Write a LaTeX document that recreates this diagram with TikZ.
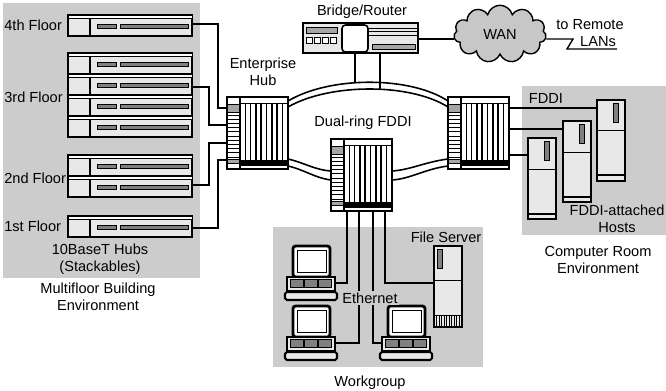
\documentclass[tikz,border=0pt]{standalone}
\usepackage{fontspec}
\setmainfont{Liberation Sans}
\usetikzlibrary{shapes.symbols}

\definecolor{panelgray}{gray}{0.80}
\definecolor{unitgray}{gray}{0.91}
\definecolor{bargray}{gray}{0.50}
\definecolor{cellgray}{gray}{0.65}
\definecolor{cloudgray}{gray}{0.78}

\tikzset{
  panel/.style={fill=panelgray},
  wire/.style={line width=0.8pt},
  box/.style={line width=0.9pt},
  caption/.style={font=\fontsize{8.3}{9.4}\selectfont, align=center, inner sep=0pt},
}

% one 10BaseT hub unit, top edge at y=#1
\newcommand{\hubunit}[1]{%
  \filldraw[box,fill=unitgray] (68,#1) rectangle (192,#1+21);
  \filldraw[fill=white] (68,#1) rectangle (192,#1+3);
  \draw[line width=1.2pt] (90,#1+3) -- (90,#1+21);
  \filldraw[fill=bargray] (97,#1+9) rectangle (116,#1+13);
  \filldraw[fill=bargray] (120,#1+9) rectangle (188,#1+13);
}

% FDDI concentrator, port strip at x=#1, top at y=#2
\newcommand{\concentrator}[2]{%
  \filldraw[box,fill=white] (#1,#2) rectangle (#1+13,#2+72);
  \filldraw[fill=cellgray] (#1,#2+7) rectangle (#1+13,#2+15);
  \foreach \k in {0,...,10} \draw (#1,#2+18+\k*4.2) -- ++(13,0);
  \filldraw[fill=cellgray] (#1,#2+62) rectangle (#1+13,#2+66);
  \filldraw[box,fill=white] (#1+13,#2) rectangle (#1+61,#2+72);
  \draw (#1+13,#2+6) -- (#1+61,#2+6);
  \foreach \k in {1,...,8} \draw[line width=0.9pt] (#1+13+\k*5.3,#2+6) -- ++(0,57);
  \fill (#1+13,#2+63) rectangle (#1+61,#2+69);
}

% tower cabinet, top left (#1,#2), slot x offset #3, divider y offset #4
\newcommand{\tower}[4]{%
  \filldraw[box,fill=unitgray] (#1,#2) rectangle (#1+28,#2+81);
  \draw[line width=1.6pt] (#1+28,#2+1) -- (#1+28,#2+81); % shadow side
  \filldraw[fill=bargray] (#1+#3,#2+3) rectangle (#1+#3+5,#2+22);
  \draw (#1,#2+#4) -- (#1+28,#2+#4);
}

% desktop pc, monitor top left at (#1,#2)
\newcommand{\pc}[2]{%
  \filldraw[line width=1.6pt,fill=white,rounded corners=1.5pt] (#1,#2) rectangle (#1+37,#2+31);
  \draw[line width=0.5pt] (#1+4,#2+4) rectangle (#1+33,#2+26);
  \filldraw[box,fill=unitgray] (#1-6,#2+31) rectangle (#1+42,#2+45);
  \foreach \s in {0,14,28} \filldraw[fill=bargray] (#1-3+\s,#2+33) rectangle (#1+10+\s,#2+41);
  \filldraw[line width=1.2pt,fill=unitgray,rounded corners=1pt] (#1-8,#2+46) rectangle (#1+44,#2+54);
}

\begin{document}
\begin{tikzpicture}[x=0.02cm,y=-0.02cm]
\useasboundingbox (0,0) rectangle (666,391);

% environments
\fill[panel] (3,3) rectangle (200,278); % multifloor
\fill[panel] (522,86) rectangle (666,235); % computer room
\fill[panel] (273,227) rectangle (483,367); % workgroup

% stackable hubs
\foreach \yy in {15,53,74,95,116,155,176,216} {\hubunit{\yy}}

\node[caption,anchor=west] (fl4) at (4,25) {4th Floor};
\node[caption,anchor=west] (fl3) at (4,97) {3rd Floor};
\node[caption,anchor=west] (fl2) at (4,178) {2nd Floor};
\node[caption,anchor=west] (fl1) at (4,226) {1st Floor};
\node[caption] (stack) at (100,259) {10BaseT Hubs\\(Stackables)};
\node[caption] (multi) at (98,297) {Multifloor Building\\Environment};

% floor links
\coordinate (u4) at (192,24);
\coordinate (u3) at (192,87);
\coordinate (u2) at (192,185);
\coordinate (u1) at (192,228);
\coordinate (e4) at (227,108);
\coordinate (e3) at (227,125);
\coordinate (e2) at (227,143);
\coordinate (e1) at (227,160);
\draw[wire] (u4) -- ++(26,0) |- (e4);
\draw[wire] (u3) -- ++(17,0) |- (e3);
\draw[wire] (u2) -- ++(17,0) |- (e2);
\draw[wire] (u1) -- ++(26,0) |- (e1);

% dual ring
\draw[box] (288,101) .. controls (330,76) and (410,76) .. (448,101);
\draw[box] (288,107) .. controls (330,83) and (410,83) .. (448,107);
\draw[box] (288,159) .. controls (305,163) and (315,170) .. (331,171);
\draw[box] (288,166) .. controls (305,170) and (315,178) .. (331,180);
\draw[box] (392,171) .. controls (410,170) and (425,162) .. (448,159);
\draw[box] (392,180) .. controls (410,179) and (425,169) .. (448,166);

\concentrator{227}{97}  % enterprise hub
\concentrator{448}{97}  % computer room
\concentrator{331}{139} % workgroup

\node[caption] (ehub) at (263,72) {Enterprise\\Hub};
\node[caption] (ring) at (363,123) {Dual-ring FDDI};

% bridge/router
\filldraw[box,fill=unitgray] (303,23) rectangle (418,53);
\filldraw[fill=cellgray] (306,27) rectangle (337,33);
\foreach \i in {0,...,3} \filldraw[fill=white] (306+\i*8,37) rectangle (312+\i*8,43);
\filldraw[box,fill=white,rounded corners=2pt] (342,25) rectangle (368,52);
\foreach \yy in {28,31,35} \draw (368,\yy) -- (418,\yy);
\filldraw[fill=cellgray] (372,44) rectangle (415,49);
\node[caption] (router) at (362,12) {Bridge/Router};

\coordinate (br1) at (355,53);
\coordinate (br2) at (380,53);
\coordinate (br3) at (418,39);
\coordinate (rg1) at (355,83);
\coordinate (rg2) at (380,89);
\draw[wire] (br1) -- (rg1);
\draw[wire] (br2) -- (rg2);

% wan
\node[cloud, cloud puffs=11, aspect=1.6, draw, fill=cloudgray, line width=0.8pt,
  minimum width=1.85cm, minimum height=1.15cm, inner sep=0pt,
  font=\fontsize{8.3}{9.4}\selectfont] (wan) at (500,34) {WAN};
\coordinate (remote) at (617,49);
\draw[wire] (br3) -- (wan.west |- br3);
\draw[wire] (wan.east |- br3) -- (573,39) -- (567,49) -- (remote);
\node[caption] (toremote) at (590,25) {to Remote};
\node[caption] (lans) at (598,42) {LANs};

% computer room hosts
\tower{597}{100}{16}{30}
\tower{563}{121}{16}{31}
\tower{528}{138}{16}{31}
\foreach \xx/\yy in {597/175,563/197,528/214} \draw[box] (\xx,\yy) -- ++(28,0);
\coordinate (rh1) at (509,108);
\coordinate (rh2) at (509,129);
\coordinate (rh3) at (509,155);
\coordinate (hA) at (597,108);
\coordinate (hB) at (563,129);
\coordinate (hC) at (528,155);
\draw[wire] (rh1) -- (hA);
\draw[wire] (rh2) -- (hB);
\draw[wire] (rh3) -- (hC);
\node[caption] (fddi) at (546,98) {FDDI};
\node[caption] (hosts) at (617,219) {FDDI-attached\\Hosts};
\node[caption] (croom) at (598,260) {Computer Room\\Environment};

% workgroup
\pc{293}{246}
\pc{293}{306}
\pc{388}{306}
\tower{434}{246}{3}{34}
\draw (434,315) -- (462,315);
\foreach \xx in {436.5,439,...,460} \draw (\xx,315) -- (\xx,327);

\coordinate (ch1) at (347,211);
\coordinate (ch2) at (359,211);
\coordinate (ch3) at (373,211);
\coordinate (ch4) at (385,211);
\coordinate (pc1) at (335,283);
\coordinate (pc3) at (335,343);
\coordinate (pc4) at (382,343);
\coordinate (fs) at (434,283);
\draw[wire] (ch1) |- (pc1);
\draw[wire] (ch2) |- (pc3);
\draw[wire] (ch3) |- (pc4);
\draw[wire] (ch4) |- (fs);

\node[caption] (fserver) at (446,237) {File Server};
\node[caption,fill=panelgray,inner sep=1pt] (ether) at (370,298) {Ethernet};
\node[caption] (wgroup) at (370,383) {Workgroup};

\end{tikzpicture}
\end{document}
